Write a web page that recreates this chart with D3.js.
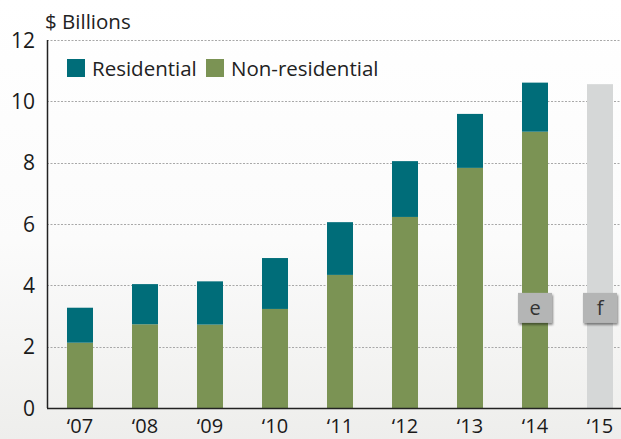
<!DOCTYPE html>
<html>
<head>
<meta charset="utf-8">
<script src="https://cdn.jsdelivr.net/npm/d3@7"></script>
<style>
  body { margin: 0; background: #fff; }
  svg { display: block; font-family: 'Open Sans', 'Noto Sans', sans-serif; }
</style>
</head>
<body>
<div id="chart"></div>
<script>
const years = ['07', '08', '09', '10', '11', '12', '13', '14', '15'];
const nonResidential = [2.13, 2.73, 2.72, 3.23, 4.34, 6.23, 7.83, 9.01, null];
const residential = [1.14, 1.31, 1.41, 1.66, 1.72, 1.82, 1.76, 1.60, null];
const forecast = [null, null, null, null, null, null, null, null, 10.56];
const yTicks = [0, 2, 4, 6, 8, 10, 12];
const markers = [{ year: '14', text: 'e' }, { year: '15', text: 'f' }];

const W = 621, H = 439;
const margin = { top: 40, right: 0, bottom: 31, left: 47 };
const height = H - margin.top - margin.bottom;

const svg = d3.select('#chart').append('svg').attr('width', W).attr('height', H);

// faint background wash toward the bottom
const defs = svg.append('defs');
const bg = defs.append('linearGradient').attr('id', 'bg').attr('x1', 0).attr('y1', 0).attr('x2', 0).attr('y2', 1);
bg.append('stop').attr('offset', '0%').attr('stop-color', '#ffffff');
bg.append('stop').attr('offset', '55%').attr('stop-color', '#fbfbfb');
bg.append('stop').attr('offset', '100%').attr('stop-color', '#eeeeec');
svg.append('rect').attr('width', W).attr('height', H).attr('fill', 'url(#bg)');

const shadow = defs.append('filter').attr('id', 'shadow').attr('x', '-30%').attr('y', '-30%').attr('width', '160%').attr('height', '160%');
shadow.append('feDropShadow').attr('dx', 1).attr('dy', 2).attr('stdDeviation', 1.2).attr('flood-color', '#000').attr('flood-opacity', 0.45);

const g = svg.append('g').attr('transform', `translate(${margin.left},${margin.top})`);

const x = d3.scaleBand().domain(years).range([0.5, 585.5]).paddingInner(0.6).paddingOuter(0.3);
const y = d3.scaleLinear().domain([0, 12]).range([height, 0]);

// gridlines
g.append('g')
  .selectAll('line')
  .data(yTicks.filter((d) => d > 0))
  .join('line')
  .attr('x1', 0)
  .attr('x2', W)
  .attr('y1', (d) => Math.round(y(d)) + 0.5)
  .attr('y2', (d) => Math.round(y(d)) + 0.5)
  .attr('stroke', '#a8a8a8')
  .attr('stroke-width', 1)
  .attr('stroke-dasharray', '2,1.5');

// forecast bar
g.append('g')
  .selectAll('rect')
  .data(years.map((yr, i) => ({ yr, v: forecast[i] })).filter((d) => d.v != null))
  .join('rect')
  .attr('x', (d) => x(d.yr))
  .attr('width', x.bandwidth())
  .attr('y', (d) => y(d.v))
  .attr('height', (d) => y(0) - y(d.v))
  .attr('fill', '#d5d7d7');

// stacked bars
const rows = years.map((yr, i) => ({ yr, non: nonResidential[i], res: residential[i] })).filter((d) => d.non != null);
const stack = d3.stack().keys(['non', 'res'])(rows);
const colors = { non: '#7b9354', res: '#006d79' };

g.append('g')
  .selectAll('g')
  .data(stack)
  .join('g')
  .attr('fill', (s) => colors[s.key])
  .selectAll('rect')
  .data((s) => s)
  .join('rect')
  .attr('x', (d) => x(d.data.yr))
  .attr('width', x.bandwidth())
  .attr('y', (d) => y(d[1]))
  .attr('height', (d) => y(d[0]) - y(d[1]));

// y axis
g.append('line')
  .attr('x1', 0.5).attr('x2', 0.5)
  .attr('y1', 0).attr('y2', height)
  .attr('stroke', '#222').attr('stroke-width', 1.5);

g.append('g')
  .selectAll('text')
  .data(yTicks)
  .join('text')
  .attr('x', -12)
  .attr('y', (d) => y(d))
  .attr('dy', '0.36em')
  .attr('text-anchor', 'end')
  .attr('font-size', 21)
  .attr('fill', '#1a1a1a')
  .text((d) => d);

// x axis
g.append('line')
  .attr('x1', 0).attr('x2', W)
  .attr('y1', height + 0.5).attr('y2', height + 0.5)
  .attr('stroke', '#222').attr('stroke-width', 1.5);

g.append('g')
  .selectAll('text')
  .data(years)
  .join('text')
  .attr('x', (d) => x(d) + x.bandwidth() / 2)
  .attr('y', height + 25)
  .attr('text-anchor', 'middle')
  .attr('font-size', 20)
  .attr('fill', '#1a1a1a')
  .text((d) => '\u2018' + d);

// unit label
svg.append('text')
  .attr('x', 45).attr('y', 29)
  .attr('font-size', 20.5)
  .attr('fill', '#222')
  .text('$ Billions');

// legend
const legend = svg.append('g').attr('transform', 'translate(67,59)');
[{ key: 'res', label: 'Residential', dx: 0 }, { key: 'non', label: 'Non-residential', dx: 139 }].forEach((l) => {
  legend.append('rect').attr('x', l.dx).attr('y', 0).attr('width', 18).attr('height', 18).attr('fill', colors[l.key]);
  legend.append('text').attr('x', l.dx + 25).attr('y', 17).attr('font-size', 20.5).attr('fill', '#222').text(l.label);
});

// e / f markers
const mk = g.append('g').selectAll('g').data(markers).join('g')
  .attr('transform', (d) => `translate(${x(d.year) + x.bandwidth() / 2},${y(3.2)})`);
mk.append('rect')
  .attr('x', -17).attr('y', -17).attr('width', 34).attr('height', 30)
  .attr('fill', '#b4b5b5')
  .attr('filter', 'url(#shadow)');
mk.append('text')
  .attr('y', 5)
  .attr('text-anchor', 'middle')
  .attr('font-size', 20)
  .attr('fill', '#333')
  .text((d) => d.text);
</script>
</body>
</html>
